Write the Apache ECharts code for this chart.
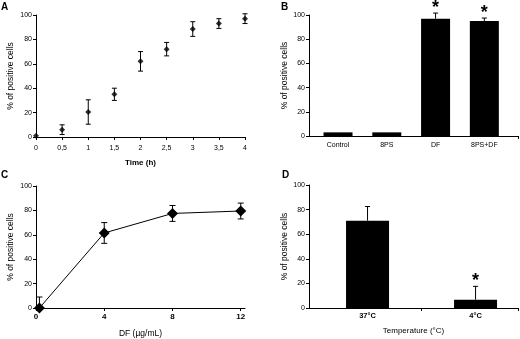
<!DOCTYPE html>
<html>
<head>
<meta charset="utf-8">
<script src="https://cdn.jsdelivr.net/npm/echarts@6/dist/echarts.min.js"></script>
<style>
  html, body { margin: 0; padding: 0; background: #fff; }
  #chart { width: 520px; height: 339px; }
</style>
</head>
<body>
<div id="chart"></div>
<script>
// A: time course
const timeH = [0, 0.5, 1, 1.5, 2, 2.5, 3, 3.5, 4]
const timePct = [1, 6, 20.5, 35, 62, 72, 88.5, 93, 97]
const timeErr = [0, 4, 10, 5, 8, 5.5, 6, 4, 4]

// B: treatments
const groupNames = ['Control', '8PS', 'DF', '8PS+DF']
const groupPct = [3, 3, 97, 95]
const groupErr = [0, 0, 4.6, 2.5]
const groupSig = [false, false, true, true]

// C: DF dose
const dfDose = [0.2, 4, 8, 12]
const dosePct = [0, 61.5, 77.5, 79.5]
const doseErr = [9, 8.5, 6.5, 6.5]
const doseTicks = [0, 4, 8, 12]

// D: temperature
const tempNames = ['37°C', '4°C']
const tempPct = [71, 6.8]
const tempErr = [11.5, 10.8]
const tempSig = [false, true]

const FONT = 'Liberation Sans, Arial, sans-serif'
const black = '#000'

const errRows = (xs, ys, es, sig) => xs.map((x, i) => [x, ys[i], es[i], sig && sig[i] ? 1 : 0])

const errRender = (upOnly, cap) => (params, api) => {
  const x = api.value(0)
  const y = api.value(1)
  const e = api.value(2)
  const sig = api.value(3)
  const children = []
  if (e > 0) {
    const top = api.coord([x, y + e])
    const bot = api.coord([x, upOnly ? y : y - e])
    const st = {stroke: black, lineWidth: 1}
    children.push({type: 'line', shape: {x1: top[0], y1: top[1], x2: bot[0], y2: bot[1]}, style: st})
    children.push({type: 'line', shape: {x1: top[0] - cap, y1: top[1], x2: top[0] + cap, y2: top[1]}, style: st})
    if (!upOnly) {
      children.push({type: 'line', shape: {x1: bot[0] - cap, y1: bot[1], x2: bot[0] + cap, y2: bot[1]}, style: st})
    }
    if (sig) {
      children.push({
        type: 'text', x: top[0], y: top[1] + 4,
        style: {text: '*', align: 'center', verticalAlign: 'bottom', font: 'bold 18px ' + FONT, fill: black},
      })
    }
  }
  return {type: 'group', children}
}

const yAxis = (idx) => ({
  gridIndex: idx,
  type: 'value',
  min: 0,
  max: 100,
  interval: 20,
  name: '% of positive cells',
  nameLocation: 'middle',
  nameRotate: 90,
  nameGap: 21,
  nameTextStyle: {fontFamily: FONT, fontSize: 8.5, color: black},
  axisLine: {show: true, onZero: false, lineStyle: {color: black, width: 1}},
  axisTick: {show: true, length: 3, lineStyle: {color: black}},
  axisLabel: {fontFamily: FONT, fontSize: 7, color: black, margin: 4},
  splitLine: {show: false},
})

const baseX = {
  type: 'value',
  axisLine: {show: true, onZero: false, lineStyle: {color: black, width: 1}},
  axisTick: {show: true, length: 3, lineStyle: {color: black}},
  splitLine: {show: false},
  nameLocation: 'middle',
}

const option = {
  animation: false,
  backgroundColor: '#fff',
  grid: [
    {left: 36, top: 15, width: 209, height: 122},
    {left: 309, top: 15, width: 209, height: 121},
    {left: 36, top: 186, width: 209, height: 122},
    {left: 309, top: 185, width: 209, height: 123},
  ],
  xAxis: [
    {
      ...baseX, gridIndex: 0, min: 0, max: 4, interval: 0.5,
      name: 'Time (h)', nameGap: 22,
      nameTextStyle: {fontFamily: FONT, fontSize: 8, fontWeight: 'bold', color: black},
      axisLabel: {fontFamily: FONT, fontSize: 7, color: black, margin: 8, formatter: v => String(v).replace('.', ',')},
    },
    {
      ...baseX, gridIndex: 1, min: -0.595, max: 3.69,
      axisTick: {show: true, length: 3, lineStyle: {color: black}, customValues: [3.69]},
      axisLabel: {fontFamily: FONT, fontSize: 7, color: black, margin: 6, customValues: [0, 1, 2, 3], formatter: v => groupNames[Math.round(v)]},
    },
    {
      ...baseX, gridIndex: 2, min: 0, max: 12.25,
      name: 'DF (µg/mL)', nameGap: 21,
      nameTextStyle: {fontFamily: FONT, fontSize: 8.5, color: black},
      axisTick: {show: true, length: 3, lineStyle: {color: black}, customValues: doseTicks},
      axisLabel: {fontFamily: FONT, fontSize: 8, fontWeight: 'bold', color: black, margin: 5, customValues: doseTicks},
    },
    {
      ...baseX, gridIndex: 3, min: -0.542, max: 1.393,
      name: 'Temperature (°C)', nameGap: 19,
      nameTextStyle: {fontFamily: FONT, fontSize: 8, color: black},
      axisTick: {show: true, length: 3, lineStyle: {color: black}, customValues: [0.5, 1.393]},
      axisLabel: {fontFamily: FONT, fontSize: 7.5, fontWeight: 'bold', color: black, margin: 4, customValues: [0, 1], formatter: v => tempNames[Math.round(v)]},
    },
  ],
  yAxis: [yAxis(0), {...yAxis(1), nameGap: 20}, yAxis(2), {...yAxis(3), nameGap: 20}],
  graphic: [
    {type: 'text', left: 1, top: 2, style: {text: 'A', font: 'bold 10px ' + FONT, fill: black}},
    {type: 'text', left: 281, top: 2, style: {text: 'B', font: 'bold 10px ' + FONT, fill: black}},
    {type: 'text', left: 1, top: 170, style: {text: 'C', font: 'bold 10px ' + FONT, fill: black}},
    {type: 'text', left: 282, top: 170, style: {text: 'D', font: 'bold 10px ' + FONT, fill: black}},
  ],
  series: [
    {
      type: 'scatter', xAxisIndex: 0, yAxisIndex: 0,
      symbol: 'diamond', symbolSize: 6, itemStyle: {color: black},
      data: timeH.map((x, i) => [x, timePct[i]]),
    },
    {
      type: 'custom', xAxisIndex: 0, yAxisIndex: 0, renderItem: errRender(false, 2.5),
      data: errRows(timeH, timePct, timeErr), z: 3,
    },
    {
      type: 'bar', xAxisIndex: 1, yAxisIndex: 1, barWidth: 29,
      itemStyle: {color: black},
      data: groupNames.map((n, i) => [i, groupPct[i]]),
    },
    {
      type: 'custom', xAxisIndex: 1, yAxisIndex: 1, renderItem: errRender(true, 2.5),
      data: errRows(groupNames.map((n, i) => i), groupPct, groupErr, groupSig), z: 3,
    },
    {
      type: 'line', xAxisIndex: 2, yAxisIndex: 2,
      symbol: 'diamond', symbolSize: 11, showSymbol: true,
      lineStyle: {color: black, width: 1}, itemStyle: {color: black},
      data: dfDose.map((x, i) => [x, dosePct[i]]),
    },
    {
      type: 'custom', xAxisIndex: 2, yAxisIndex: 2, renderItem: errRender(false, 3), clip: true,
      data: errRows(dfDose, dosePct, doseErr), z: 3,
    },
    {
      type: 'bar', xAxisIndex: 3, yAxisIndex: 3, barWidth: 43,
      itemStyle: {color: black},
      data: tempNames.map((n, i) => [i, tempPct[i]]),
    },
    {
      type: 'custom', xAxisIndex: 3, yAxisIndex: 3, renderItem: errRender(true, 2.5),
      data: errRows(tempNames.map((n, i) => i), tempPct, tempErr, tempSig), z: 3,
    },
  ],
}

const chart = echarts.init(document.getElementById('chart'))
chart.setOption(option)
window.addEventListener('resize', () => chart.resize())
</script>
</body>
</html>
